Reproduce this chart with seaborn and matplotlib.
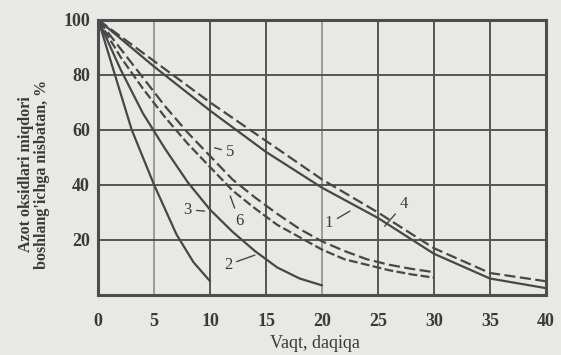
import numpy as np
import pandas as pd
import matplotlib
matplotlib.use('Agg')
import matplotlib.pyplot as plt
import seaborn as sns

# values
t_3 = [0, 1.5, 3, 5, 7, 8.5, 10]
v_3 = [100, 80, 60, 40, 22, 12, 5]

t_2 = [0, 2, 4, 6, 8, 10, 12, 14, 16, 18, 20]
v_2 = [100, 82, 66, 53, 41, 31, 23, 16, 10, 6, 3.5]

t_56 = [0, 2, 4, 6, 8, 10, 12, 14, 16, 18, 20, 22, 24, 26, 28, 30]
v_5 = [100, 89.5, 79, 68.5, 59, 50.5, 42, 35.5, 29.5, 24, 19.5, 16, 13, 11, 9.5, 8.3]
v_6 = [100, 86.5, 75, 64.5, 55, 46.5, 38, 31.5, 25.5, 21, 16.5, 13, 11, 9, 7.5, 6.3]

t_14 = [0, 5, 10, 15, 20, 25, 30, 35, 40]
v_1 = [100, 83, 67, 52, 39, 28, 15, 6, 2.5]
v_4 = [100, 85, 70, 56, 42, 30, 17, 8, 5]

x_ticks = [0, 5, 10, 15, 20, 25, 30, 35, 40]
y_ticks = [20, 40, 60, 80, 100]

# curve number labels: (text, label pos, leader tip)
labels = [
    ('5', (11.8, 52), (10.4, 53.5)),
    ('3', (8.0, 31), (9.5, 30.5)),
    ('6', (12.6, 27), (11.8, 36)),
    ('2', (11.6, 11), (14.0, 14.5)),
    ('1', (20.6, 26), (22.5, 30.5)),
    ('4', (27.3, 33), (25.6, 25)),
]

sns.set_theme(style='white')
plt.rcParams['font.family'] = ['Liberation Serif', 'DejaVu Serif']

bg = '#e8e8e5'
ink = '#474747'
txt_c = '#3a3a3a'

fig = plt.figure(figsize=(5.61, 3.55), dpi=100, facecolor=bg)
ax = fig.add_axes([0.175, 0.169, 0.798, 0.775])
ax.set_facecolor(bg)

curves = [
    (t_3, v_3, '-', None),
    (t_2, v_2, '-', None),
    (t_56, v_5, '--', (5, 2)),
    (t_56, v_6, '--', (4, 1.5)),
    (t_14, v_1, '-', None),
    (t_14, v_4, '--', (5, 2)),
]
for t, v, ls, dash in curves:
    line = sns.lineplot(x=t, y=v, ax=ax, color=ink, lw=1.6, linestyle=ls)
    if dash is not None:
        line.lines[-1].set_dashes(dash)

for txt, pos, tip in labels:
    ax.annotate(txt, xy=tip, xytext=pos, fontsize=12, color=txt_c,
                ha='center', va='center',
                arrowprops=dict(arrowstyle='-', color=ink, lw=1.0,
                                shrinkA=1, shrinkB=0))

ax.set_xlim(0, 40)
ax.set_ylim(0, 100)
ax.set_xticks(x_ticks)
ax.set_yticks(y_ticks)
for xv in x_ticks[1:-1]:
    c = '#9a9a9a' if xv in (5, 20) else '#555555'
    ax.axvline(xv, color=c, lw=1.4, zorder=0)
for yv in y_ticks[:-1]:
    ax.axhline(yv, color='#555555', lw=1.4, zorder=0)

for s in ax.spines.values():
    s.set_color('#4d4d4d')
    s.set_linewidth(2.2)

ax.tick_params(length=0, labelsize=13, colors=txt_c)
ax.tick_params(axis='x', pad=13)
ax.tick_params(axis='y', pad=6)
for lab in ax.get_xticklabels() + ax.get_yticklabels():
    lab.set_fontweight('bold')

ax.set_xlabel('Vaqt, daqiqa', fontsize=13, color=txt_c)
ax.xaxis.set_label_coords(0.484, -0.145)
ax.set_ylabel("Azot oksidlari miqdori\nboshlang'ichga nisbatan, %",
              fontsize=11.5, color=txt_c, fontweight='bold', linespacing=1.05)
ax.yaxis.set_label_coords(-0.107, 0.44)

fig.savefig('out.png', dpi=100, facecolor=bg)
